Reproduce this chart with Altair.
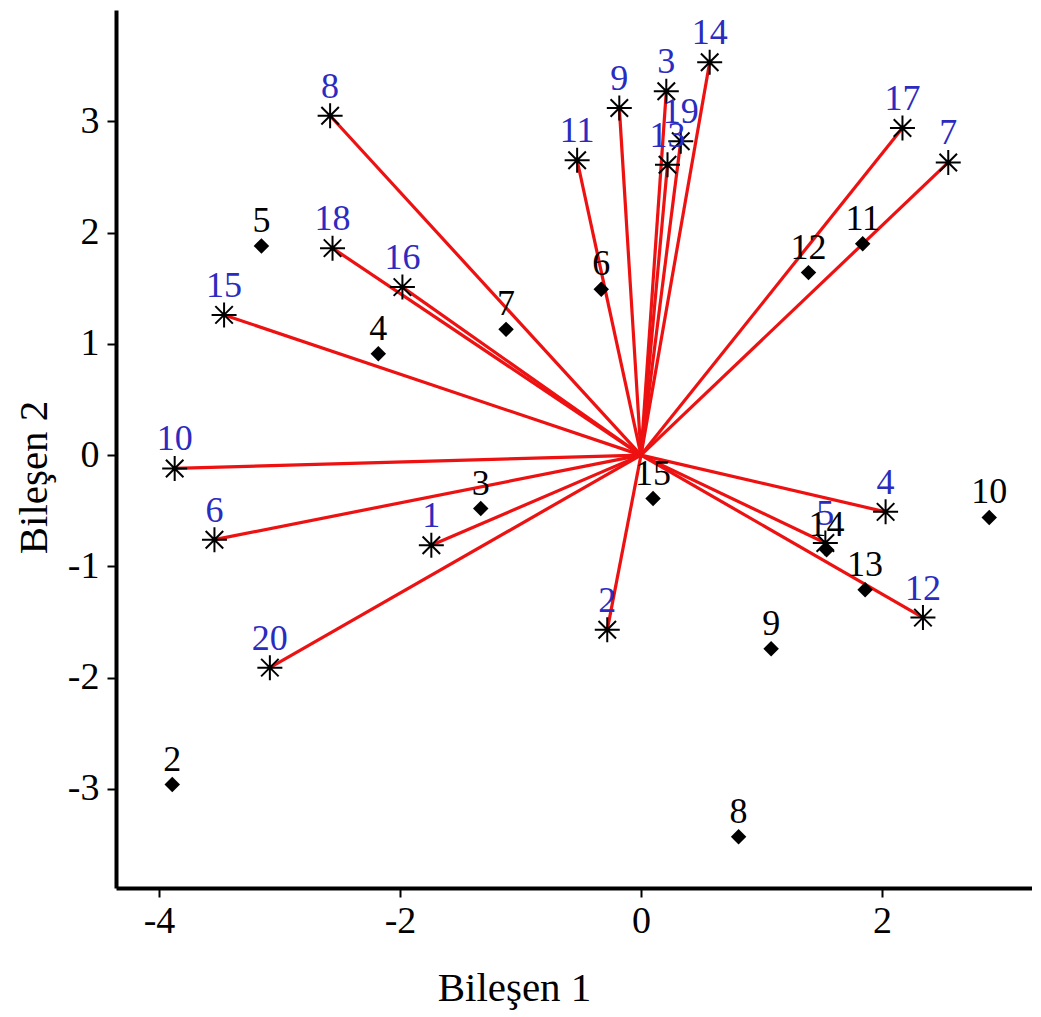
import altair as alt
import pandas as pd

# Variables (asterisks, blue labels) - loadings
var_ids = [str(i) for i in range(1, 21)]
var_x = [-1.74, -0.28, 0.21, 2.03, 1.53, -3.54, 2.55, -2.58, -0.18, -3.87,
         -0.53, 2.34, 0.22, 0.57, -3.46, -1.98, 2.17, -2.56, 0.33, -3.08]
var_y = [-0.81, -1.57, 3.27, -0.51, -0.79, -0.76, 2.63, 3.05, 3.12, -0.12,
         2.65, -1.46, 2.61, 3.53, 1.26, 1.51, 2.94, 1.86, 2.82, -1.91]

# Observations (diamonds, black labels) - scores
obs_ids = [str(i) for i in range(2, 16)]
obs_x = [-3.89, -1.33, -2.18, -3.15, -0.33, -1.12, 0.81, 1.08, 2.89, 1.84,
         1.39, 1.86, 1.54, 0.10]
obs_y = [-2.96, -0.48, 0.91, 1.88, 1.49, 1.13, -3.43, -1.74, -0.56, 1.90,
         1.64, -1.21, -0.85, -0.39]

x_ticks = [-4, -2, 0, 2]
y_ticks = [-3, -2, -1, 0, 1, 2, 3]

vars_df = pd.DataFrame({"id": var_ids, "x": var_x, "y": var_y,
                        "x0": [0.0] * len(var_ids), "y0": [0.0] * len(var_ids)})
obs_df = pd.DataFrame({"id": obs_ids, "x": obs_x, "y": obs_y})

FONT = "Liberation Serif"
xs = alt.Scale(domain=[-4.357, 3.245], nice=False, zero=False)
ys = alt.Scale(domain=[-3.89, 4.0], nice=False, zero=False)

xenc = alt.X("x:Q", scale=xs, title="Bileşen 1",
             axis=alt.Axis(values=x_ticks, titleX=398, titleY=112,
                           titleAlign="center", titleBaseline="alphabetic",
                           labelPadding=5, labelExpr="'' + datum.value"))
yenc = alt.Y("y:Q", scale=ys, title="Bileşen 2",
             axis=alt.Axis(values=y_ticks, titleX=-70, titleY=467,
                           titleAngle=270, titleAlign="center",
                           titleBaseline="alphabetic", labelPadding=8,
                           labelExpr="'' + datum.value"))

rules = alt.Chart(vars_df).mark_rule(color="#ee1111", strokeWidth=3.2).encode(
    x=xenc, y=yenc, x2="x0:Q", y2="y0:Q")

asterisk = "M-1,0L1,0M0,-1L0,1M-0.7,-0.7L0.7,0.7M-0.7,0.7L0.7,-0.7"
stars = alt.Chart(vars_df).mark_point(shape=asterisk, filled=False, size=625,
                                      color="black", strokeWidth=2, opacity=1).encode(
    x=xenc, y=yenc)

diamonds = alt.Chart(obs_df).mark_point(shape="diamond", filled=True, size=240,
                                        color="black", opacity=1).encode(
    x=xenc, y=yenc)

var_labels = alt.Chart(vars_df).mark_text(font=FONT, fontSize=36, color="#2b2bc0",
                                          baseline="alphabetic", dy=-18).encode(
    x=xenc, y=yenc, text="id:N")

obs_labels = alt.Chart(obs_df).mark_text(font=FONT, fontSize=36, color="black",
                                         baseline="alphabetic", dy=-14).encode(
    x=xenc, y=yenc, text="id:N")

chart = alt.layer(rules, stars, var_labels, diamonds, obs_labels).properties(
    width=916, height=878,
    autosize=alt.AutoSizeParams(type="none"),
    padding={"left": 108, "top": 2, "right": 0, "bottom": 122},
    background="white",
).configure_view(stroke=None).configure_axis(
    grid=False, domainColor="black", domainWidth=4, tickColor="black",
    tickWidth=2, tickSize=9, labelFont=FONT, labelFontSize=38,
    labelColor="black", titleFont=FONT, titleFontSize=41,
    titleFontWeight="normal", titleColor="black", labelFlush=False,
    labelOverlap=False,
)

chart.save("out.html", embed_options={"renderer": "svg", "actions": False})
